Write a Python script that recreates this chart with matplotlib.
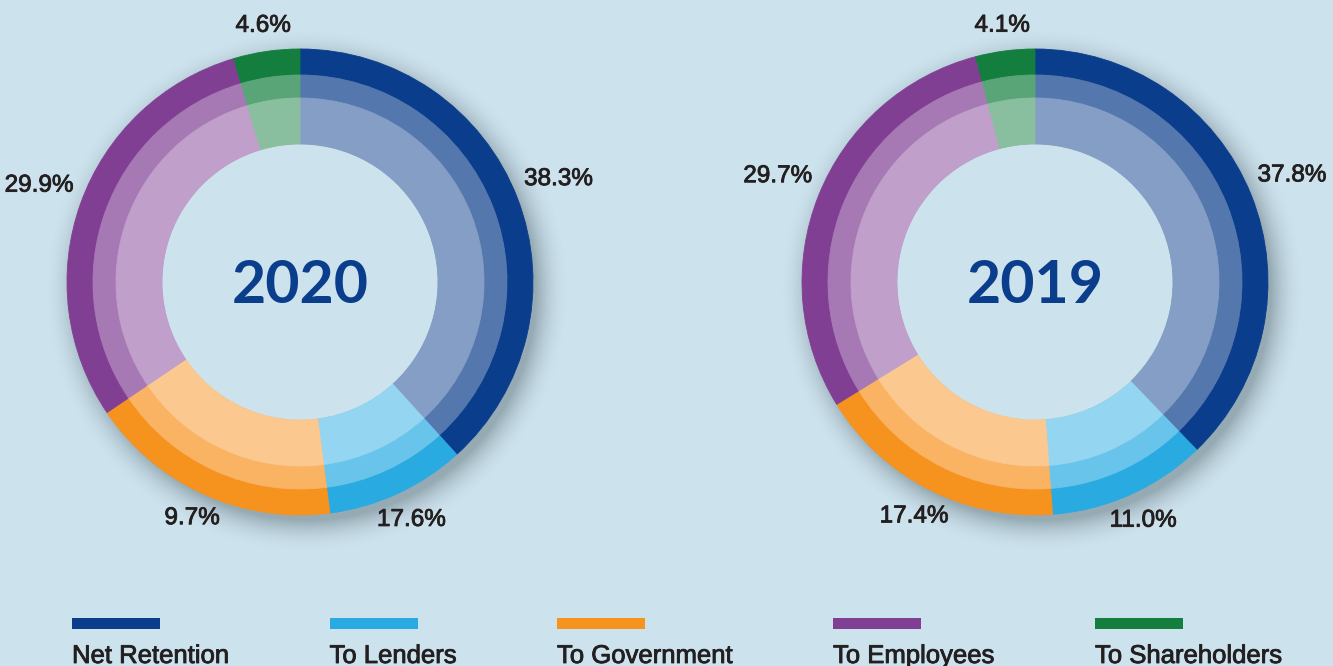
import numpy as np
import matplotlib
matplotlib.use("Agg")
import matplotlib.pyplot as plt
import matplotlib.patheffects as pe
from matplotlib.patches import Circle, Rectangle
from matplotlib.colors import to_rgb

# ---------------- data ----------------
categories = ["Net Retention", "To Lenders", "To Government", "To Employees", "To Shareholders"]
years = ["2020", "2019"]
values_2020 = [38.3, 9.7, 17.6, 29.9, 4.6]
values_2019 = [37.8, 11.0, 17.4, 29.7, 4.1]
# percentage labels exactly as printed next to each segment in the source
labels_2020 = ["38.3%", "17.6%", "9.7%", "29.9%", "4.6%"]
labels_2019 = ["37.8%", "11.0%", "17.4%", "29.7%", "4.1%"]

# ---------------- style ----------------
colors = ["#0a3d8b", "#29abe2", "#f6921e", "#813f94", "#137e3e"]
BG = "#cce2ec"
TEXT = "#231f20"
YEAR = "#0a3d8b"
thick = [pe.withStroke(linewidth=0.6, foreground=TEXT)]

W, H = 1333, 666
fig = plt.figure(figsize=(W / 100, H / 100), dpi=100, facecolor=BG)
ax = fig.add_axes([0, 0, 1, 1])
ax.set_facecolor(BG)

centers = [(300, 384), (1035, 384)]
R = 233
HOLE = 138
rings = [(233, 26, 1.0), (207, 23, 0.7), (184, 46, 0.5)]


def tint(c, t):
    rgb = np.array(to_rgb(c))
    return tuple(t * rgb + (1 - t))


# soft drop shadow
yy, xx = np.mgrid[0:H, 0:W] + 0.5
alpha = np.zeros((H, W))
for cx, cy in centers:
    d = np.hypot(xx - (cx + 7), yy - (cy - 9))
    s = np.clip(1 - (d - (R - 4)) / 34, 0, 1)
    alpha = np.maximum(alpha, 0.38 * s ** 2)
img = np.zeros((H, W, 4))
img[..., 0], img[..., 1], img[..., 2] = 0.25, 0.31, 0.35
img[..., 3] = alpha
ax.imshow(img, extent=(0, W, 0, H), origin="lower", zorder=0, interpolation="bilinear")

fig.canvas.draw()
renderer = fig.canvas.get_renderer()

for (cx, cy), vals, labs, yr in zip(centers, [values_2020, values_2019],
                                    [labels_2020, labels_2019], years):
    ax.add_patch(Circle((cx, cy), HOLE, facecolor=BG, edgecolor="none", zorder=1))
    outer = None
    for radius, width, t in rings:
        cols = [tint(c, t) for c in colors]
        wedges, _ = ax.pie(vals, colors=cols, radius=radius, center=(cx, cy),
                           startangle=90, counterclock=False,
                           wedgeprops=dict(width=width, linewidth=0.6))
        for w, c in zip(wedges, cols):
            w.set_edgecolor(c)
            w.set_zorder(2)
        if outer is None:
            outer = wedges
    # percentage labels
    for w, lab in zip(outer, labs):
        m = np.deg2rad((w.theta1 + w.theta2) / 2)
        t = ax.text(0, 0, lab, ha="center", va="center", fontsize=17.5,
                    color=TEXT, family="Liberation Sans", zorder=3, path_effects=thick)
        bb = t.get_window_extent(renderer)
        dist = R + 8 + abs(np.cos(m)) * bb.width / 2 + abs(np.sin(m)) * bb.height / 2
        t.set_position((cx + dist * np.cos(m), cy + dist * np.sin(m) + 3))
    # year in the centre
    ax.text(cx, cy - 21, yr, ha="center", va="baseline", fontsize=42.5,
            fontweight="bold", family="Lato", color=YEAR, zorder=3)

# legend
x = 72
for c, name in zip(colors, categories):
    ax.add_patch(Rectangle((x, 37), 88, 11, facecolor=c, edgecolor="none", zorder=3))
    t = ax.text(x, 3, name, ha="left", va="baseline", fontsize=18.5,
                color=TEXT, family="Liberation Sans", zorder=3, path_effects=thick)
    x = x + t.get_window_extent(renderer).width + 100

ax.set_xlim(0, W)
ax.set_ylim(0, H)
ax.set_aspect("equal")
ax.axis("off")
fig.savefig("out.png", dpi=100, facecolor=BG)
